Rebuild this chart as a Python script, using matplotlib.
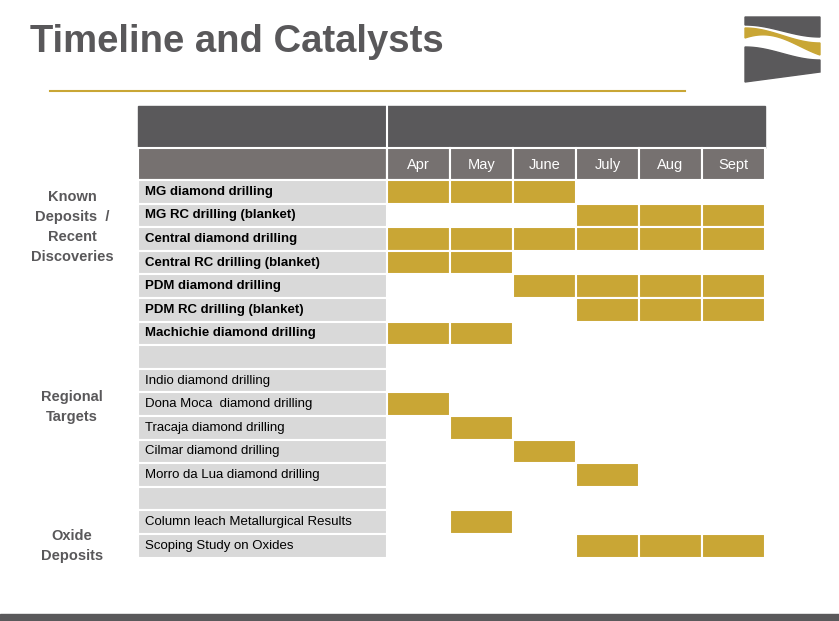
import numpy as np
import matplotlib.pyplot as plt
from matplotlib.patches import Rectangle, Polygon

months = ['Apr', 'May', 'June', 'July', 'Aug', 'Sept']
tasks = ['MG diamond drilling', 'MG RC drilling (blanket)', 'Central diamond drilling',
         'Central RC drilling (blanket)', 'PDM diamond drilling', 'PDM RC drilling (blanket)',
         'Machichie diamond drilling', '',
         'Indio diamond drilling', 'Dona Moca  diamond drilling', 'Tracaja diamond drilling',
         'Cilmar diamond drilling', 'Morro da Lua diamond drilling', '',
         'Column leach Metallurgical Results', 'Scoping Study on Oxides']
bold_rows = [True] * 7 + [False] * 9
# active month indices per task
active = [[0, 1, 2], [3, 4, 5], [0, 1, 2, 3, 4, 5], [0, 1], [2, 3, 4, 5], [3, 4, 5],
          [0, 1], [], [], [0], [1], [2], [3], [], [1], [3, 4, 5]]
groups = [('Known\nDeposits  /\nRecent\nDiscoveries', 227), ('Regional\nTargets', 407),
          ('Oxide\nDeposits', 546)]

GOLD = '#c9a635'
DARK = '#5a595b'
MID = '#767170'
LIGHT = '#d9d9d9'

fig = plt.figure(figsize=(8.39, 6.21), dpi=100)
ax = fig.add_axes([0, 0, 1, 1])
ax.set_xlim(0, 839)
ax.set_ylim(621, 0)
ax.axis('off')

ax.text(30, 42, 'Timeline and Catalysts', fontsize=27.5, fontweight='bold', color='#59585a',
        va='center', ha='left', family='Liberation Sans')
ax.plot([50, 685], [91, 91], color=GOLD, lw=1.5)

# logo
t = np.linspace(0, 1, 60)
xs = 745 + 75 * t
s = (1 - np.cos(np.pi * t)) / 2
ax.add_patch(Polygon([(745, 17), (820, 17)] + list(zip(xs[::-1], (25 + 12 * s)[::-1])), color=DARK))
ax.add_patch(Polygon(list(zip(xs, 28 + 15 * s)) +
                     list(zip(xs[::-1], (38 + 17 * s - 8 * np.sin(np.pi * t))[::-1])), color=GOLD))
ax.add_patch(Polygon(list(zip(xs, 47 + 13 * s)) + [(820, 72), (745, 82)], color=DARK))

x0, lab_w, col_w = 138, 249, 63
y_head, y_mon, y0, rh = 106, 148, 180, 23.6
nx = x0 + lab_w
# header
ax.add_patch(Rectangle((x0, y_head), lab_w, y_mon - y_head, color=DARK))
ax.add_patch(Rectangle((nx, y_head), col_w * 6, y_mon - y_head, color=DARK))
ax.plot([nx, nx], [y_head, y0], color='white', lw=1.5)
ax.add_patch(Rectangle((x0, y_mon), lab_w, y0 - y_mon, facecolor=MID, edgecolor='white', lw=1.5))
for j, m in enumerate(months):
    ax.add_patch(Rectangle((nx + j * col_w, y_mon), col_w, y0 - y_mon, facecolor=MID,
                           edgecolor='white', lw=1.5))
    ax.text(nx + j * col_w + col_w / 2, (y_mon + y0) / 2 + 1, m, color='white', fontsize=10.5,
            ha='center', va='center', family='Liberation Sans')

for i, task in enumerate(tasks):
    y = y0 + i * rh
    ax.add_patch(Rectangle((x0, y), lab_w, rh, facecolor=LIGHT, edgecolor='white', lw=1.5))
    ax.text(x0 + 7, y + rh / 2, task, fontsize=9.5, va='center', ha='left', color='black',
            fontweight='bold' if bold_rows[i] else 'normal', family='Liberation Sans')
    for j in active[i]:
        ax.add_patch(Rectangle((nx + j * col_w, y), col_w, rh, facecolor=GOLD,
                               edgecolor='white', lw=1.5))

for label, yc in groups:
    ax.text(72, yc, label, fontsize=10.5, fontweight='bold', color='#59585a', ha='center',
            va='center', linespacing=1.55, family='Liberation Sans')

ax.add_patch(Rectangle((0, 614), 839, 7, color=DARK))

fig.savefig('out.png', dpi=100)
